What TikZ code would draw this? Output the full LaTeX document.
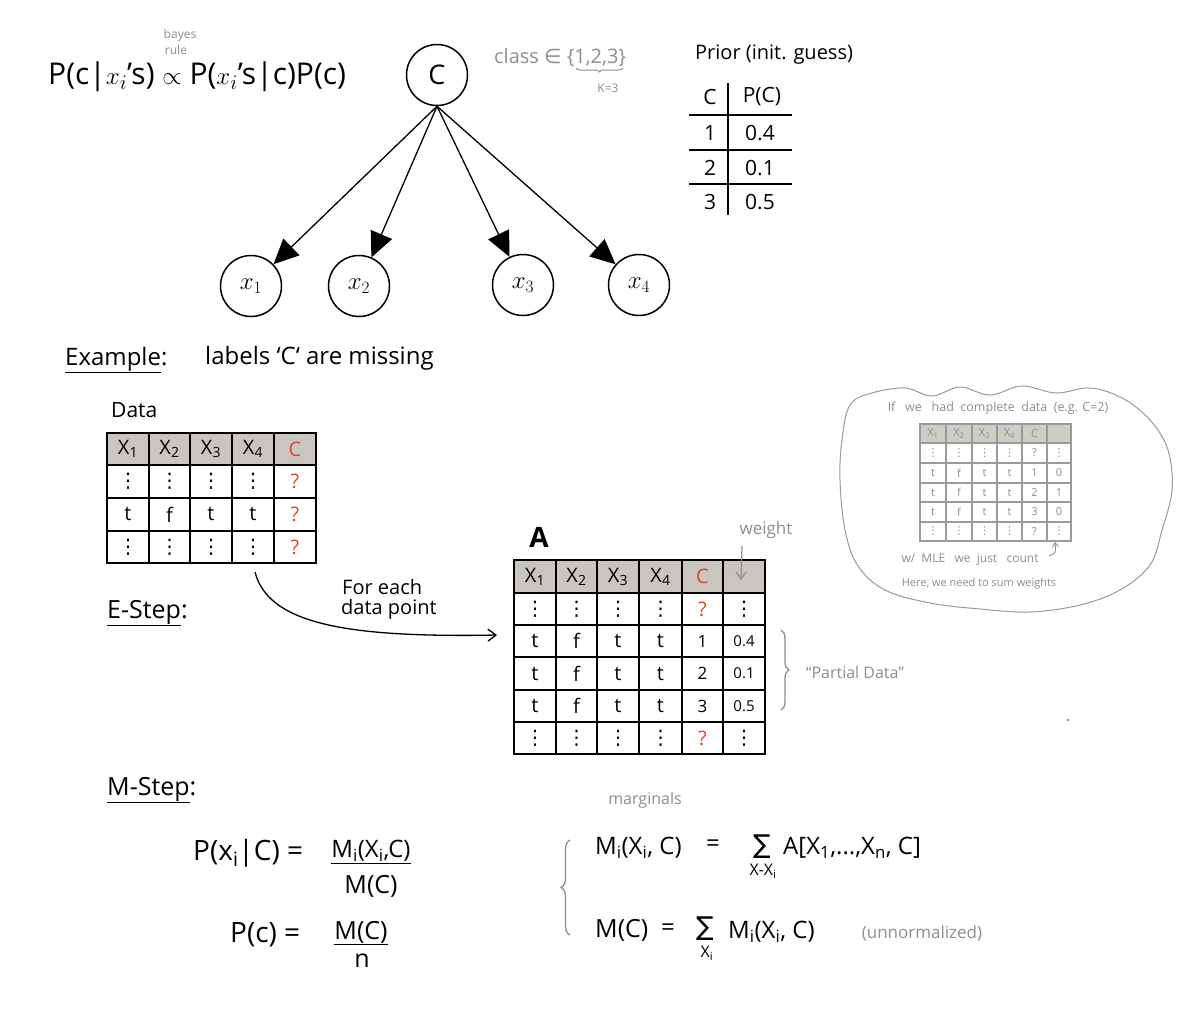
\documentclass[tikz,border=0pt]{standalone}
\usepackage{fontspec}
\setmainfont{Open Sans}
\newfontfamily\symf{DejaVu Sans}
\usetikzlibrary{arrows.meta,decorations.pathreplacing,calc}
\definecolor{gnote}{HTML}{8E8E8E}
\definecolor{cred}{HTML}{E0452B}
\definecolor{hdr}{HTML}{C9C6BF}
\definecolor{ghdr}{HTML}{CFCCC6}
\definecolor{gline}{HTML}{9A9A9A}
\newcommand\vd{{\symf ⋮}}
\begin{document}
\begin{tikzpicture}[x=1pt,y=-1pt,
  txt/.style={inner sep=0pt, font=\fontsize{#1}{#1}\selectfont},
  txt/.default=22,
  note/.style={inner sep=0pt, text=gnote, font=\fontsize{#1}{#1}\selectfont},
  note/.default=14,
  gnode/.style={circle, draw, line width=1.5pt, minimum size=61pt, inner sep=0pt, font=\fontsize{27}{27}\selectfont},
  garrow/.style={line width=1.3pt, -{Triangle[length=25pt,width=23pt]}},
  tline/.style={line width=2.5pt},
  pline/.style={line width=2pt},
  cell/.style={inner sep=0pt, font=\fontsize{20}{20}\selectfont},
  gcell/.style={inner sep=0pt, text=gnote, font=\fontsize{11}{11}\selectfont},
  gtl/.style={draw=gline, line width=1.6pt},
  garr/.style={draw=gnote, line width=1.2pt, -{Straight Barb[length=7pt,width=10pt]}}
]
\useasboundingbox (0,0) rectangle (1203,1020);
\fill[white] (0,0) rectangle (1203,1020);

% ---------- top formula ----------
\node[note=12] (bay1) at (180,35) {bayes};
\node[note=12] (bay2) at (176,50) {rule};
\node[txt=30, anchor=west] (bayes) at (48,77) {P(c|$x_i$'s) $\propto$ P($x_i$'s|c)P(c)};

% ---------- graph ----------
\node[gnode] (C) at (437,75) {C};
\node[gnode] (x1) at (251,286) {$x_1$};
\node[gnode] (x2) at (359,286) {$x_2$};
\node[gnode] (x3) at (523,285) {$x_3$};
\node[gnode] (x4) at (639,285) {$x_4$};
\foreach \n in {x1,x2,x3,x4} \draw[garrow] (C.south) -- (\n);

\node[note=20, anchor=west] (cls) at (494,57) {class {\symf∈} \{1,2,3\}};
\draw[draw=gnote, line width=1pt, decorate, decoration={brace, mirror, amplitude=4pt}] (576,68) -- (623,68);
\node[note=12] (k3) at (608,88) {K=3};

% ---------- prior table ----------
\node[txt=20, anchor=west] (prior) at (695,55) {Prior (init. guess)};
\draw[pline] (728,83) -- (728,215);
\foreach \y in {115,150,184} \draw[pline] (689,\y) -- (792,\y);
\node[txt=21] (pc0) at (710,97) {C};
\node[txt=21] (pp0) at (762,97) {P(C)};
\node[txt=21] (pc1) at (710,133) {1};
\node[txt=21] (pp1) at (760,133) {0.4};
\node[txt=21] (pc2) at (710,168) {2};
\node[txt=21] (pp2) at (760,168) {0.1};
\node[txt=21] (pc3) at (710,202) {3};
\node[txt=21] (pp3) at (760,202) {0.5};

% ---------- example ----------
\node[txt=24, anchor=west] (ex) at (65,360) {\underline{Example}:};
\node[txt=24, anchor=west] (lab) at (205,358) {labels `C` are missing};
\node[txt=21, anchor=west] (data) at (111,410) {Data};

% data table
\fill[hdr] (107,433) rectangle (316,465);
\draw[tline] (107,433) rectangle (316,563);
\foreach \x in {149,190,232,274} \draw[tline] (\x,433) -- (\x,563);
\foreach \y in {465,498,531} \draw[tline] (107,\y) -- (316,\y);
\foreach \cx/\t [count=\i] in {128/X\textsubscript{1},169.5/X\textsubscript{2},211/X\textsubscript{3},253/X\textsubscript{4},295/\textcolor{cred}{C}}
  \node[cell] (dh\i) at (\cx,449) {\t};
\foreach \cx [count=\i] in {128,169.5,211,253} {
  \node[cell] (da\i) at (\cx,481.5) {\vd};
  \node[cell] (dc\i) at (\cx,547) {\vd};
}
\foreach \cx/\t [count=\i] in {128/t,169.5/f,211/t,253/t}
  \node[cell] (db\i) at (\cx,514.5) {\t};
\node[cell, text=cred] (da5) at (295,481.5) {?};
\node[cell, text=cred] (db5) at (295,514.5) {?};
\node[cell, text=cred] (dc5) at (295,547) {?};

% ---------- E-step ----------
\node[txt=25, anchor=west] (estep) at (107,613) {\underline{E-Step}:};
\coordinate (es) at (255,572);
\coordinate (ee) at (497,635);
\draw[line width=1.3pt, -{Straight Barb[length=8pt,width=12pt]}] (es) .. controls (268,622) and (340,638) .. (ee);
\node[txt=20, anchor=west] (fe1) at (342,587) {For each};
\node[txt=20, anchor=west] (fe2) at (341,609) {data point};

% table A
\node[inner sep=0pt, font=\fontsize{28}{28}\selectfont\bfseries] (A) at (539,537) {A};
\fill[hdr] (514,560) rectangle (765,593);
\draw[tline] (514,560) rectangle (765,754);
\foreach \x in {556,597,639,682,723} \draw[tline] (\x,560) -- (\x,754);
\foreach \y in {593,625,657,690,722} \draw[tline] (514,\y) -- (765,\y);
\foreach \cx/\t [count=\i] in {535/X\textsubscript{1},576.5/X\textsubscript{2},618/X\textsubscript{3},660.5/X\textsubscript{4},702.5/\textcolor{cred}{C}}
  \node[cell] (ah\i) at (\cx,576.5) {\t};
\foreach \cx [count=\i] in {535,576.5,618,660.5} {
  \node[cell] (a1\i) at (\cx,609) {\vd};
  \node[cell] (a5\i) at (\cx,738) {\vd};
}
\node[cell, text=cred] (a15) at (702.5,609) {?};
\node[cell, text=cred] (a55) at (702.5,738) {?};
\node[cell] (a16) at (744,609) {\vd};
\node[cell] (a56) at (744,738) {\vd};
\foreach \r/\cy/\v/\w in {2/641/1/0.4,3/673.5/2/0.1,4/706/3/0.5} {
  \foreach \cx/\t [count=\i] in {535/t,576.5/f,618/t,660.5/t}
    \node[cell] (a\r\i) at (\cx,\cy) {\t};
  \node[cell, font=\fontsize{17}{17}\selectfont] (a\r5) at (702.5,\cy) {\v};
  \node[cell, font=\fontsize{15}{15}\selectfont] (a\r6) at (744,\cy) {\w};
}
\node[note=17] (wt) at (766,530) {weight};
\coordinate (wa) at (742,546);
\coordinate (wb) at (741,580);
\draw[garr] (wa) -- (wb);
\draw[draw=gnote, line width=1.3pt, decorate, decoration={brace, amplitude=8pt}] (781,630) -- (781,710);
\node[note=16] (pd) at (855,672) {``Partial Data''};

% ---------- cloud ----------
\draw[draw=gline, line width=1pt] plot[smooth cycle, tension=0.6] coordinates {
 (850,405) (872,393) (905,388) (932,396) (960,387) (990,395) (1022,386) (1056,393)
 (1090,388) (1122,398) (1150,420) (1168,450) (1172,490) (1162,530) (1150,565)
 (1120,590) (1080,605) (1030,612) (980,609) (930,603) (885,590) (858,566)
 (845,530) (840,480) (842,440)};
\node[note=12.5] (cl1) at (998,408) {If \ \ we \ \ had \ complete \ data \ (e.g. C=2)};
\fill[ghdr] (920,424) rectangle (1071,443);
\draw[gtl] (920,424) rectangle (1071,541);
\foreach \x in {946,972,997,1022,1047} \draw[gtl] (\x,424) -- (\x,541);
\foreach \y in {443,463,483,502,522} \draw[gtl] (920,\y) -- (1071,\y);
\foreach \cx/\t [count=\i] in {933/X\textsubscript{1},959/X\textsubscript{2},984.5/X\textsubscript{3},1009.5/X\textsubscript{4},1034.5/C}
  \node[gcell] (ch\i) at (\cx,433.5) {\t};
\foreach \cx [count=\i] in {933,959,984.5,1009.5} {
  \node[gcell] (c1\i) at (\cx,453) {\vd};
  \node[gcell] (c5\i) at (\cx,531.5) {\vd};
}
\node[gcell] (c15) at (1034.5,453) {?};
\node[gcell] (c55) at (1034.5,531.5) {?};
\node[gcell] (c16) at (1059,453) {\vd};
\node[gcell] (c56) at (1059,531.5) {\vd};
\foreach \r/\cy/\v/\w in {2/473/1/0,3/492.5/2/1,4/512/3/0} {
  \foreach \cx/\t [count=\i] in {933/t,959/f,984.5/t,1009.5/t}
    \node[gcell] (c\r\i) at (\cx,\cy) {\t};
  \node[gcell] (c\r5) at (1034.5,\cy) {\v};
  \node[gcell] (c\r6) at (1059,\cy) {\w};
}
\node[note=12] (mle) at (970,560) {w/ \ MLE \ \ we \ just \ \ count};
\coordinate (ma) at (1049,556);
\coordinate (mb) at (1055,542);
\draw[draw=gnote, line width=0.9pt, -{Straight Barb[length=4pt,width=6pt]}] (ma) .. controls (1056,553) .. (mb);
\node[note=11] (sumw) at (979,584) {Here, we need to sum weights};

\fill[cred] (1068,720) circle (1.2);

% ---------- M-step ----------
\node[txt=25, anchor=west] (mstep) at (107,790) {\underline{M-Step}:};
\node[note=16] (marg) at (645,800) {marginals};

\node[txt=28, anchor=west] (pxc) at (193,853) {P(x\textsubscript{i}|C) =};
\node[txt=24] (num1) at (371,852) {\underline{M\textsubscript{i}(X\textsubscript{i},C)}};
\node[txt=25] (den1) at (371,886) {M(C)};
\node[txt=28, anchor=west] (pc) at (230,935) {P(c) =};
\node[txt=25] (num2) at (361,933) {\underline{M(C)}};
\node[txt=25] (den2) at (362,961) {n};

\draw[draw=gnote, line width=1.3pt, decorate, decoration={brace, amplitude=9pt}] (570,935) -- (570,840);
\node[txt=24, anchor=west] (mi) at (595,848) {M\textsubscript{i}(X\textsubscript{i}, C)};
\node[txt=24] (eq1) at (713,846) {=};
\node[inner sep=0pt, font=\symf\fontsize{26}{26}\selectfont] (s1) at (762,847) {∑};
\node[txt=16] (s1b) at (763,871) {X-X\textsubscript{i}};
\node[txt=24, anchor=west] (arr) at (783,848) {A[X\textsubscript{1},...,X\textsubscript{n}, C]};
\node[txt=25, anchor=west] (mc) at (595,930) {M(C)};
\node[txt=24] (eq2) at (668,930) {=};
\node[inner sep=0pt, font=\symf\fontsize{26}{26}\selectfont] (s2) at (705,929) {∑};
\node[txt=16] (s2b) at (707,953) {X\textsubscript{i}};
\node[txt=24, anchor=west] (mi2) at (728,932) {M\textsubscript{i}(X\textsubscript{i}, C)};
\node[note=17] (unn) at (922,933) {(unnormalized)};
\end{tikzpicture}
\end{document}
